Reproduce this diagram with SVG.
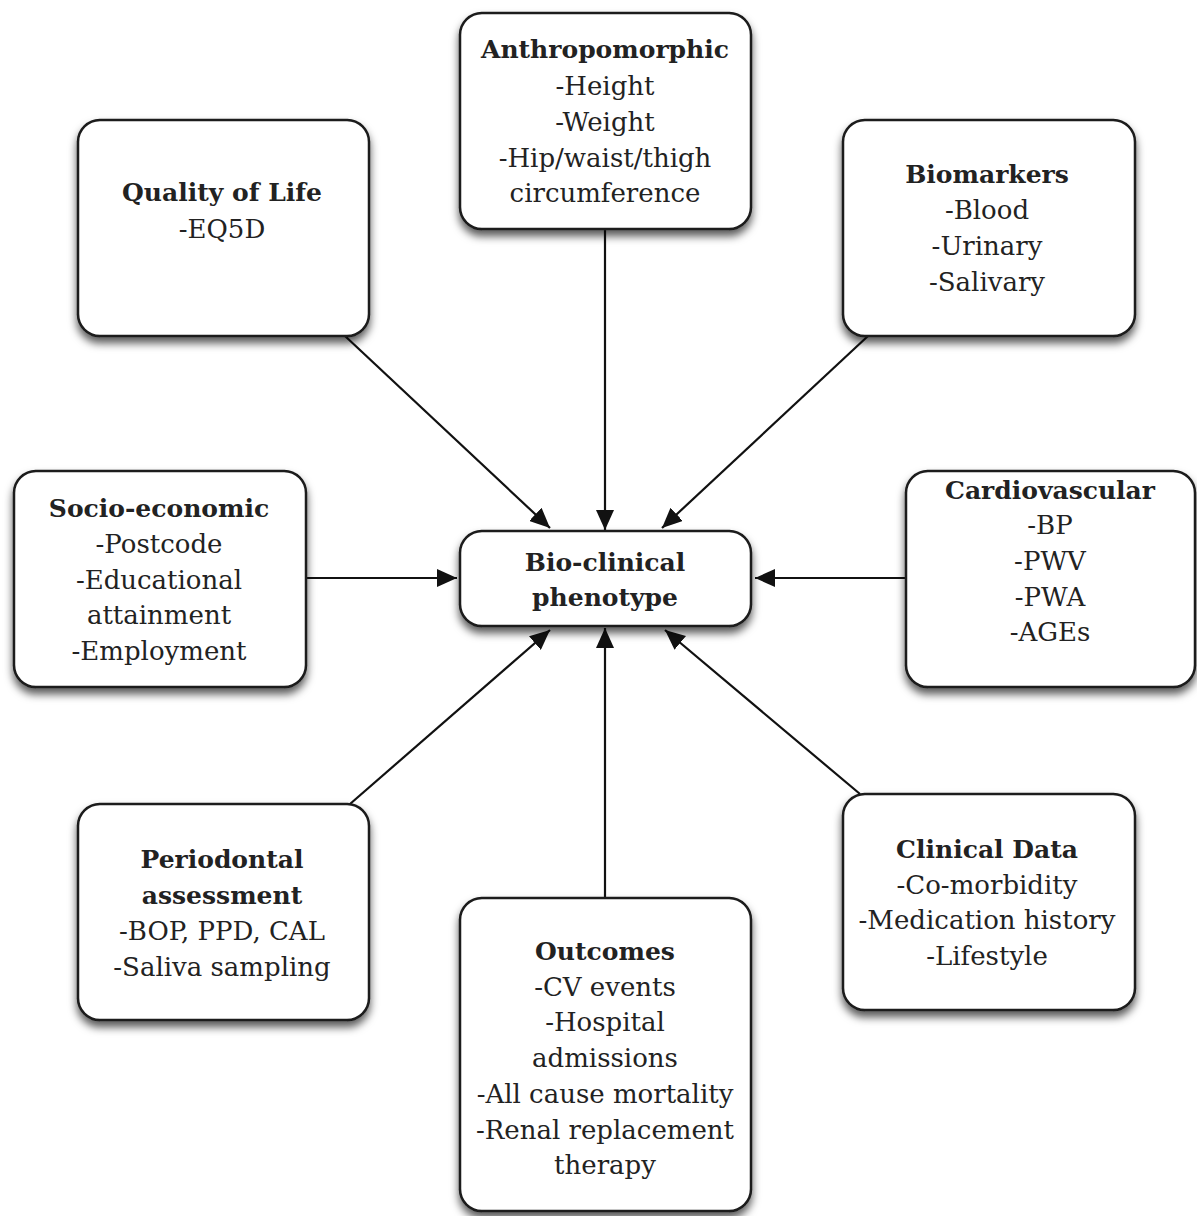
<svg xmlns="http://www.w3.org/2000/svg" width="1197" height="1216" viewBox="0 0 1197 1216">
<defs>
<filter id="sh" x="-20%" y="-20%" width="140%" height="140%">
<feDropShadow dx="0" dy="6" stdDeviation="4.5" flood-color="#000" flood-opacity="0.65"/>
</filter>
<marker id="ah" viewBox="0 0 20 18" refX="20" refY="9" markerWidth="20" markerHeight="18" markerUnits="userSpaceOnUse" orient="auto">
<path d="M0,0 L20,9 L0,18 Z" fill="#111"/>
</marker>
<style>
.box{fill:#fff;stroke:#1a1a1a;stroke-width:2.5;filter:url(#sh)}
.t{font-family:"DejaVu Serif","Liberation Serif",serif;font-size:26px;fill:#222;text-anchor:middle}
.b{font-weight:bold;font-size:25px}
.c{stroke:#111;stroke-width:2.2;fill:none;marker-end:url(#ah)}
</style>
</defs>
<rect width="1197" height="1216" fill="#fff"/>
<g id="connectors">
<line class="c" x1="605" y1="229" x2="605" y2="530"/>
<line class="c" x1="345" y1="336" x2="550" y2="528"/>
<line class="c" x1="868" y1="336" x2="662" y2="528"/>
<line class="c" x1="306" y1="578" x2="457" y2="578"/>
<line class="c" x1="906" y1="578" x2="755" y2="578"/>
<line class="c" x1="350" y1="804" x2="550" y2="630"/>
<line class="c" x1="605" y1="898" x2="605" y2="628"/>
<line class="c" x1="860" y1="794" x2="665" y2="630"/>
</g>
<g id="anthropomorphic">
<rect class="box" x="460" y="13" width="291" height="216" rx="22"/>
<text class="t b" x="605" y="58">Anthropomorphic</text>
<text class="t" x="605" y="95">-Height</text>
<text class="t" x="605" y="131">-Weight</text>
<text class="t" x="605" y="167">-Hip/waist/thigh</text>
<text class="t" x="605" y="202">circumference</text>
</g>
<g id="quality">
<rect class="box" x="78" y="120" width="291" height="216" rx="22"/>
<text class="t b" x="222" y="201">Quality of Life</text>
<text class="t" x="222" y="238">-EQ5D</text>
</g>
<g id="biomarkers">
<rect class="box" x="843" y="120" width="292" height="216" rx="22"/>
<text class="t b" x="987" y="183">Biomarkers</text>
<text class="t" x="987" y="219">-Blood</text>
<text class="t" x="987" y="255">-Urinary</text>
<text class="t" x="987" y="291">-Salivary</text>
</g>
<g id="socio">
<rect class="box" x="14" y="471" width="292" height="216" rx="22"/>
<text class="t b" x="159" y="517">Socio-economic</text>
<text class="t" x="159" y="553">-Postcode</text>
<text class="t" x="159" y="589">-Educational</text>
<text class="t" x="159" y="624">attainment</text>
<text class="t" x="159" y="660">-Employment</text>
</g>
<g id="bioclinical">
<rect class="box" x="460" y="531" width="291" height="95" rx="22"/>
<text class="t b" x="605" y="571">Bio-clinical</text>
<text class="t b" x="605" y="606">phenotype</text>
</g>
<g id="cardiovascular">
<rect class="box" x="906" y="471" width="289" height="216" rx="22"/>
<text class="t b" x="1050" y="499">Cardiovascular</text>
<text class="t" x="1050" y="534">-BP</text>
<text class="t" x="1050" y="570">-PWV</text>
<text class="t" x="1050" y="606">-PWA</text>
<text class="t" x="1050" y="641">-AGEs</text>
</g>
<g id="periodontal">
<rect class="box" x="78" y="804" width="291" height="216" rx="22"/>
<text class="t b" x="222" y="868">Periodontal</text>
<text class="t b" x="222" y="904">assessment</text>
<text class="t" x="222" y="940">-BOP, PPD, CAL</text>
<text class="t" x="222" y="976">-Saliva sampling</text>
</g>
<g id="outcomes">
<rect class="box" x="460" y="898" width="291" height="313" rx="22"/>
<text class="t b" x="605" y="960">Outcomes</text>
<text class="t" x="605" y="996">-CV events</text>
<text class="t" x="605" y="1031">-Hospital</text>
<text class="t" x="605" y="1067">admissions</text>
<text class="t" x="605" y="1103">-All cause mortality</text>
<text class="t" x="605" y="1139">-Renal replacement</text>
<text class="t" x="605" y="1174">therapy</text>
</g>
<g id="clinical">
<rect class="box" x="843" y="794" width="292" height="216" rx="22"/>
<text class="t b" x="987" y="858">Clinical Data</text>
<text class="t" x="987" y="894">-Co-morbidity</text>
<text class="t" x="987" y="929">-Medication history</text>
<text class="t" x="987" y="965">-Lifestyle</text>
</g>
</svg>
